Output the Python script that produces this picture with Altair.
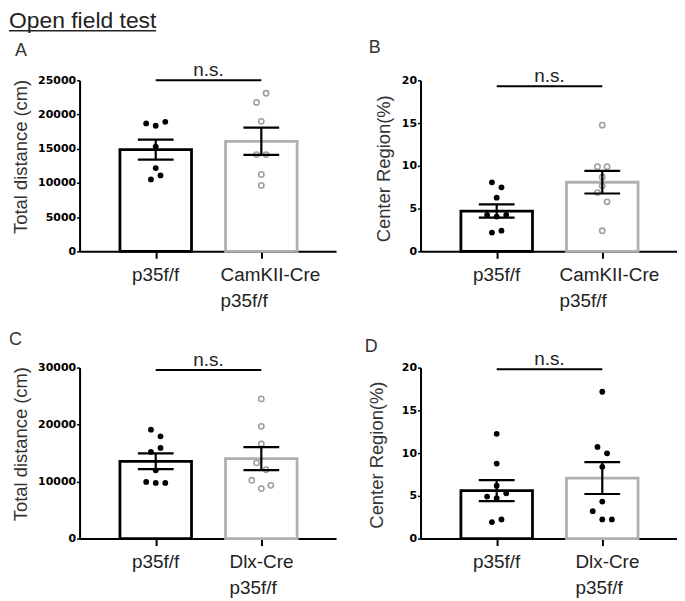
import altair as alt
import pandas as pd

# ---------------- data ----------------
A_wt = [18700, 18360, 18940, 15300, 12170, 10510, 11090]
A_wt_slot = [-1, 0, 1, 0, 0, -0.5, 0.5]
A_mut = [23110, 21760, 19000, 14140, 14140, 11240, 9640]
A_mut_slot = [0.5, -0.5, 0, -0.5, 0.5, 0, 0]
A_mean = [14870, 16090]
A_sem = [1450, 1990]

B_wt = [8.07, 7.49, 6.28, 4.25, 4.06, 4.25, 2.19, 2.42]
B_wt_slot = [-0.5, 0.5, 0, -1, 0, 1, -0.5, 0.5]
B_mut = [14.76, 9.90, 9.90, 8.66, 7.65, 6.87, 5.79, 2.41]
B_mut_slot = [0, -0.5, 0.5, 0, 0, -0.5, 0.5, 0]
B_mean = [4.71, 8.08]
B_sem = [0.77, 1.32]

C_wt = [19120, 17950, 15910, 15210, 11980, 9950, 9770, 9770]
C_wt_slot = [-0.5, 0.5, 0.5, -0.5, 0, -1, 0, 1]
C_mut = [24510, 19700, 16610, 13280, 12100, 10230, 8770, 9350]
C_mut_slot = [0, 0, 0, -0.5, 0.5, -1, 0, 1]
C_mean = [13560, 14035]
C_sem = [1377, 2017]

D_wt = [12.26, 8.78, 6.19, 4.91, 4.72, 5.30, 1.93, 2.24]
D_wt_slot = [0, 0, 0, -1, 0, 1, -0.5, 0.5]
D_mut = [17.18, 10.72, 9.98, 8.39, 4.33, 3.21, 2.24, 2.24]
D_mut_slot = [0, -0.5, 0.5, 0, 0, -1, 0, 1]
D_mean = [5.61, 7.08]
D_sem = [1.22, 1.86]

sig_A, sig_B, sig_C, sig_D = 25000, 19.3, 29600, 19.8
wt_label = "p35f/f"
camk_label = "CamKII-Cre\np35f/f"
dlx_label = "Dlx-Cre\np35f/f"
ytitle_dist = "Total distance (cm)"
ytitle_center = "Center Region(%)"
main_title = "Open field test"

# ---------------- layout constants ----------------
W, H = 258, 172
PX = 110.5                      # pixels between the two group centres
XDOM = [-74.5 / PX, (W - 74.5) / PX]
SLOT = 10 / PX
FONT = "Liberation Sans"
TXT = "#222222"
GREY = "#b0b0b0"


def one(**kw):
    return pd.DataFrame([kw])


def panel(letter, wt, wt_slot, mut, mut_slot, mean, sem, ymax, ystep,
          ytitle, mut_label, mut_dx, sig_y, mut_filled, letter_xy, ytitle_xy,
          with_title=False):
    xs = alt.Scale(domain=XDOM, nice=False, zero=False)
    xa = alt.Axis(values=[0, 1], labels=False, title=None, grid=False,
                  tickSize=7, tickWidth=2, tickColor="black",
                  domainColor="black", domainWidth=2)
    ys = alt.Scale(domain=[0, ymax], nice=False, zero=True)
    ya = alt.Axis(values=list(range(0, ymax + 1, ystep)), title=None, grid=False,
                  format="d",
                  tickSize=3, tickWidth=1.5, tickColor="black",
                  domainColor="black", domainWidth=2,
                  labelFont="DejaVu Sans", labelFontWeight="bold",
                  labelFontSize=11, labelColor="black", labelPadding=1)

    def X(f):
        return alt.X(f, scale=xs, axis=xa)

    def Y(f):
        return alt.Y(f, scale=ys, axis=ya)

    pts = pd.DataFrame({
        "x": [s * SLOT for s in wt_slot] + [1 + s * SLOT for s in mut_slot],
        "v": list(wt) + list(mut),
        "grp": ["wt"] * len(wt) + ["mut"] * len(mut),
    })
    bars = pd.DataFrame({
        "x": [0, 1], "mean": mean,
        "lo": [m - s for m, s in zip(mean, sem)],
        "hi": [m + s for m, s in zip(mean, sem)],
        "grp": ["wt", "mut"],
    })
    caps = pd.DataFrame({"x": [0, 1, 0, 1],
                         "v": list(bars["lo"]) + list(bars["hi"])})
    sig = pd.DataFrame({"x": [0], "x2": [1], "xm": [0.5], "v": [sig_y]})

    bar_layer = alt.Chart(bars).mark_bar(
        size=72, fill="white", strokeWidth=2.8, orient="vertical"
    ).encode(
        x=X("x:Q"), y=Y("mean:Q"),
        stroke=alt.Stroke("grp:N", scale=alt.Scale(domain=["wt", "mut"],
                          range=["black", GREY]), legend=None),
    )
    wt_pts = alt.Chart(pts).transform_filter(alt.datum.grp == "wt").mark_point(
        filled=True, size=34, color="black", opacity=1, strokeWidth=0
    ).encode(x=X("x:Q"), y=Y("v:Q"))
    if mut_filled:
        mut_mark = dict(filled=True, size=34, color="black", opacity=1, strokeWidth=0)
    else:
        mut_mark = dict(filled=False, size=28, color="#a0a0a0", opacity=1, strokeWidth=1.6)
    mut_pts = alt.Chart(pts).transform_filter(alt.datum.grp == "mut").mark_point(
        **mut_mark).encode(x=X("x:Q"), y=Y("v:Q"))
    err = alt.Chart(bars).mark_rule(strokeWidth=2.2, color="black").encode(
        x=X("x:Q"), y=Y("lo:Q"), y2="hi:Q")
    cap = alt.Chart(caps).mark_tick(
        orient="horizontal", size=36, thickness=2.2, color="black", opacity=1
    ).encode(x=X("x:Q"), y=Y("v:Q"))
    sig_line = alt.Chart(sig).mark_rule(strokeWidth=2, color="black").encode(
        x=X("x:Q"), x2="x2:Q", y=Y("v:Q"))
    sig_text = alt.Chart(sig).mark_text(
        text="n.s.", font=FONT, fontSize=19, color=TXT, dy=-4,
        baseline="alphabetic", align="center"
    ).encode(x=X("xm:Q"), y=Y("v:Q"))

    xl_wt = alt.Chart(one(x=0, t=wt_label)).mark_text(
        font=FONT, fontSize=19, color=TXT, align="center", baseline="alphabetic",
        lineBreak="\n", lineHeight=26
    ).encode(x=X("x:Q"), y=alt.value(H + 30), text="t:N")
    xl_mut = alt.Chart(one(x=1, t=mut_label)).mark_text(
        font=FONT, fontSize=19, color=TXT, align="left", baseline="alphabetic",
        lineBreak="\n", lineHeight=26, dx=mut_dx
    ).encode(x=X("x:Q"), y=alt.value(H + 30), text="t:N")

    ytitle_layer = alt.Chart(one(t=ytitle)).mark_text(
        font=FONT, fontSize=18.5, color="#333333", angle=270,
        align="center", baseline="bottom"
    ).encode(x=alt.value(ytitle_xy[0]), y=alt.value(ytitle_xy[1]), text="t:N")
    letter_layer = alt.Chart(one(t=letter)).mark_text(
        font=FONT, fontSize=18, color="#333333", align="left", baseline="alphabetic"
    ).encode(x=alt.value(letter_xy[0]), y=alt.value(letter_xy[1]), text="t:N")

    layers = [bar_layer, wt_pts, mut_pts, err, cap, sig_line, sig_text,
              xl_wt, xl_mut, ytitle_layer, letter_layer]
    if with_title:
        t = alt.Chart(one(t=main_title)).mark_text(
            font=FONT, fontSize=23, color=TXT, align="left", baseline="top"
        ).encode(x=alt.value(-71), y=alt.value(-71), text="t:N")
        ul = alt.Chart(one(t=main_title)).mark_rule(
            strokeWidth=1.5, color=TXT
        ).encode(x=alt.value(-71), x2=alt.value(77), y=alt.value(-50))
        layers += [t, ul]
    return alt.layer(*layers).properties(width=W, height=H)


pA = panel("A", A_wt, A_wt_slot, A_mut, A_mut_slot, A_mean, A_sem, 25000, 5000,
           ytitle_dist, camk_label, -41, sig_A, False, (-65, -24), (-49, 77),
           with_title=True)
pB = panel("B", B_wt, B_wt_slot, B_mut, B_mut_slot, B_mean, B_sem, 20, 5,
           ytitle_center, camk_label, -43, sig_B, False, (-52, -27), (-27, 89))
pC = panel("C", C_wt, C_wt_slot, C_mut, C_mut_slot, C_mean, C_sem, 30000, 10000,
           ytitle_dist, dlx_label, -32, sig_C, False, (-71, -23), (-49, 77))
pD = panel("D", D_wt, D_wt_slot, D_mut, D_mut_slot, D_mean, D_sem, 20, 5,
           ytitle_center, dlx_label, -27, sig_D, True, (-56, -16), (-34, 88))

chart = alt.concat(
    pA, pB, pC, pD, columns=2, spacing={"row": 20, "column": 29}, align="each"
).properties(padding=0).configure_view(stroke=None)

chart.save("out.html", embed_options={"renderer": "svg", "actions": False})
